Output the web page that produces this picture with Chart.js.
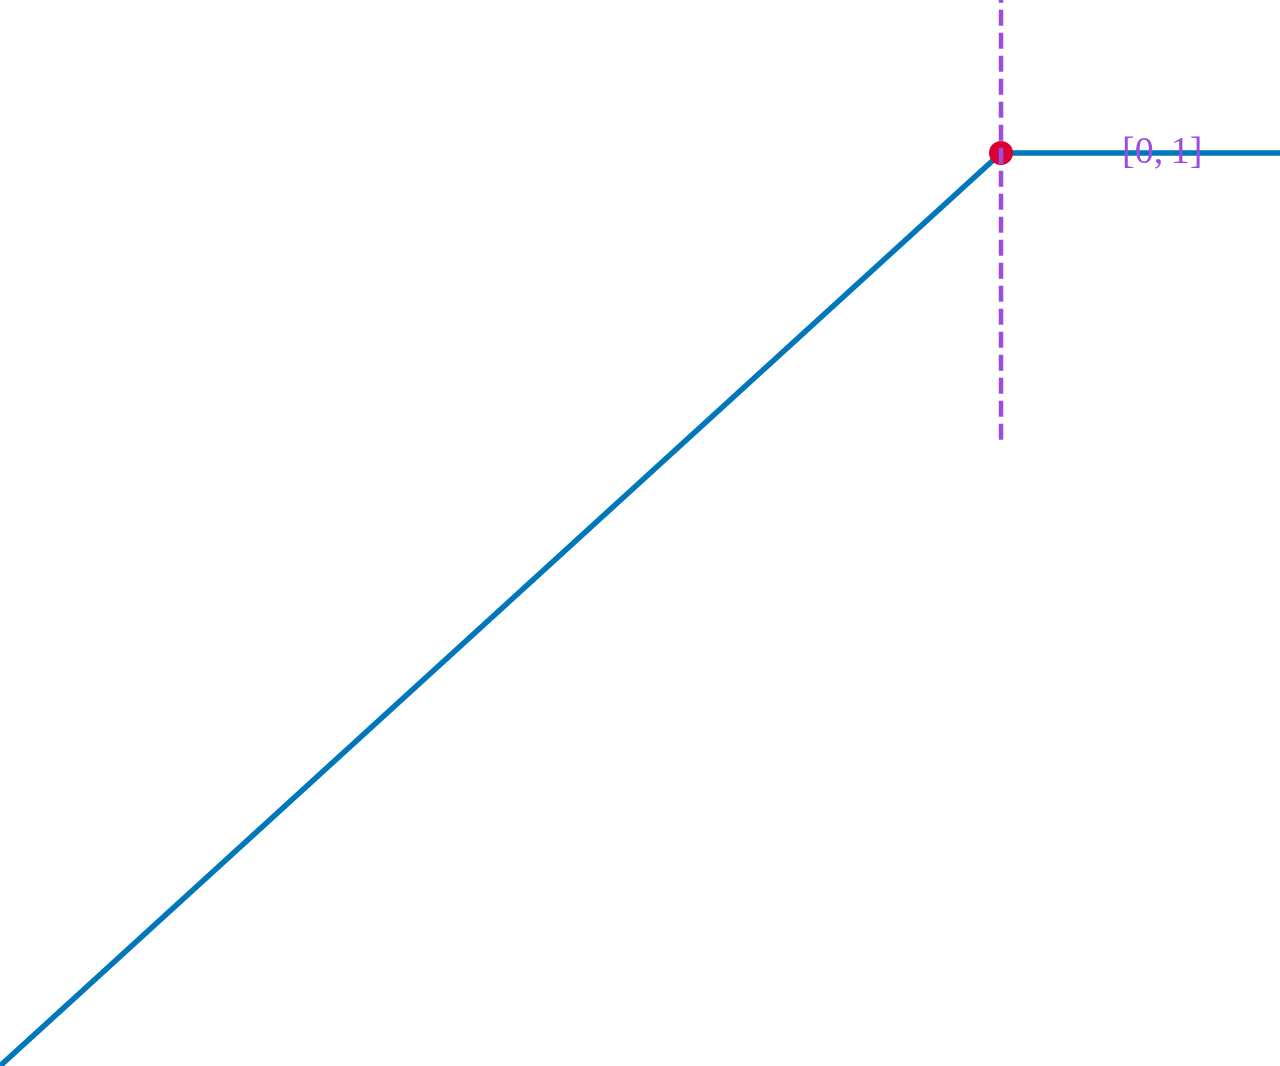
<!DOCTYPE html>
<html>
<head>
<meta charset="utf-8">
<script src="https://cdn.jsdelivr.net/npm/chart.js@4/dist/chart.umd.min.js"></script>
<style>
  html, body { margin: 0; padding: 0; background: #fff; }
  canvas { display: block; }
</style>
</head>
<body>
<canvas id="chart" width="1280" height="1066"></canvas>
<script>
// piecewise line: rises to the kink, then stays flat
const lineX = [-1, 0, 0.2787];
const lineY = [0, 1, 1];
// the marked kink point
const kinkX = [0];
const kinkY = [1];
// vertical dashed guide through the kink
const guideX = [0, 0];
const guideY = [0.686, 1.2];
// interval label
const labelText = '[0,\u20091]';
const labelPos = [0.161, 1];

const toPoints = (xs, ys) => xs.map((x, i) => ({ x, y: ys[i] }));

const labelPlugin = {
    id: 'intervalLabel',
    afterDatasetsDraw(chart) {
        const { ctx, scales } = chart;
        const px = scales.x.getPixelForValue(labelPos[0]);
        const py = scales.y.getPixelForValue(labelPos[1]);
        ctx.save();
        ctx.font = '38px "Liberation Serif", "Times New Roman", serif';
        ctx.fillStyle = '#9b4de0';
        ctx.textAlign = 'center';
        ctx.textBaseline = 'middle';
        ctx.fillText(labelText, px, py);
        ctx.restore();
    },
};

new Chart(document.getElementById('chart'), {
    type: 'scatter',
    data: {
        datasets: [
            {
                data: toPoints(lineX, lineY),
                showLine: true,
                borderColor: '#0077bb',
                borderWidth: 5.5,
                pointRadius: 0,
                tension: 0,
                order: 3,
            },
            {
                data: toPoints(kinkX, kinkY),
                backgroundColor: '#dc0032',
                borderColor: '#dc0032',
                pointRadius: 12,
                borderWidth: 0,
                order: 2,
            },
            {
                data: toPoints(guideX, guideY),
                showLine: true,
                borderColor: '#9b4de0',
                borderWidth: 4.5,
                borderDash: [16, 7],
                pointRadius: 0,
                order: 1,
            },
        ],
    },
    options: {
        responsive: false,
        devicePixelRatio: 1,
        animation: false,
        layout: { padding: 0, autoPadding: false },
        plugins: {
            legend: { display: false },
            tooltip: { enabled: false },
        },
        scales: {
            x: { type: 'linear', display: false, min: -1, max: 0.2787 },
            y: { type: 'linear', display: false, min: 0, max: 1.1676 },
        },
    },
    plugins: [labelPlugin],
});
</script>
</body>
</html>
